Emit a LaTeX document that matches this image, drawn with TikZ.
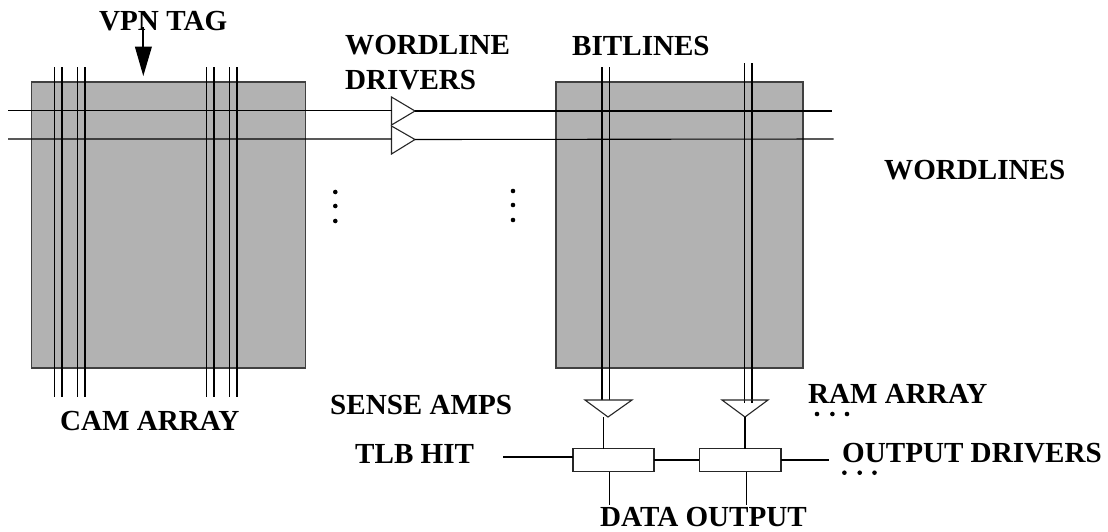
\documentclass[tikz,border=0pt]{standalone}
\usepackage{fontspec}
\setmainfont{Liberation Serif}
\begin{document}
\begin{tikzpicture}[x=1pt,y=-1pt,
  arrayblock/.style={draw=black!75,line width=1.3pt,fill=black!30,inner sep=0pt,outer sep=0pt},
  wire/.style={draw=black,line width=1.1pt},
  sym/.style={draw=black!85,line width=1.1pt,fill=white,line join=miter},
  outbox/.style={draw=black!85,line width=1.2pt,fill=white,inner sep=0pt,outer sep=0pt,minimum height=23pt},
  lab/.style={font=\bfseries\fontsize{29.1}{31}\selectfont,inner sep=0pt,anchor=base west},
  dotn/.style={circle,fill=black,inner sep=0pt,minimum size=4.6pt}]
\useasboundingbox (0,0) rectangle (1108,531);
\fill[white] (0,0) rectangle (1108,531);
% arrays
\node[arrayblock,minimum width=274pt,minimum height=286pt] (cam) at (168.5,225) {};
\node[arrayblock,minimum width=247pt,minimum height=286pt] (ram) at (679.5,225) {};
% CAM bitlines
\foreach \x in {54.5,62,77.3,85,206.7,214,229.5,237}
  \draw[wire] (\x,67) -- (\x,397);
% RAM bitlines
\foreach \x/\t/\b in {602/67/400,609.5/67/400,744.3/63/403,752/63/403}
  \draw[wire] (\x,\t) -- (\x,\b);
% wordline drivers
\coordinate (wa) at (8,110.7); \coordinate (wb) at (8,139);
\coordinate (wc) at (832,111); \coordinate (wd) at (833.5,139);
\draw[sym] (391.5,97) coordinate (d1t) -- (415,111) coordinate (d1) -- (391.5,125) coordinate (d1b) -- cycle;
\draw[sym] (391.5,126) coordinate (d2t) -- (415,139.5) coordinate (d2) -- (391.5,154) coordinate (d2b) -- cycle;
\draw[wire] (wa) -- (391.5,110.7) (d1) -- (wc);
\draw[wire] (wb) -- (391.5,139) (d2) -- (wd);
% sense amps
\path[sym,fill=none] (585,400) coordinate (s1l) -- (632,400) coordinate (s1r) -- (608,417) coordinate (s1) -- cycle;
\path[sym,fill=none] (722,400) coordinate (s2l) -- (768,400) coordinate (s2r) -- (745,417) coordinate (s2) -- cycle;
% output drivers
\node[outbox,minimum width=81pt] (o1) at (613.5,460) {};
\node[outbox,minimum width=81.5pt] (o2) at (740.2,460) {};
\coordinate (hit) at (503,457); \coordinate (outr) at (828.5,460);
\coordinate (q1) at (609.5,505); \coordinate (q2) at (746.3,505);
\draw[wire] (hit) -- (o1.west |- hit);
\draw[wire] (o1.east) -- (o2.west);
\draw[wire] (o2.east) -- (outr);
\draw[wire] (603.3,417) -- (o1.north -| 603.3,417);
\draw[wire] (s2) -- (o2.north -| s2);
\draw[wire] (q1 |- o1.south) -- (q1);
\draw[wire] (q2 |- o2.south) -- (q2);
% tag arrow
\coordinate (tag) at (143,27); \coordinate (tagb) at (143,47);
\draw[line width=1.6pt] (tag) -- (tagb);
\fill[black] (134.8,46.5) -- (152,46.5) -- (143.3,76) -- cycle;
% dots
\foreach \n/\x/\y in {a/335.3/192,b/335.3/206,c/335.3/221,d/513/191,e/513/205,f/513/220,g/817/414,h/832.4/414,i/847/414,j/844.4/472.7,k/859.7/472.7,l/874.5/472.7}
  \node[dotn] (dot\n) at (\x,\y) {};
% labels
\node[lab] (l1) at (99,30) {VPN TAG};
\node[lab] (l2) at (345,54.5) {WORDLINE};
\node[lab] (l3) at (345,89) {DRIVERS};
\node[lab] (l4) at (572,55) {BITLINES};
\node[lab] (l5) at (884,179.5) {WORDLINES};
\node[lab] (l6) at (808,403.5) {RAM ARRAY};
\node[lab] (l7) at (842,462) {OUTPUT DRIVERS};
\node[lab] (l8) at (600,526) {DATA OUTPUT};
\node[lab] (l9) at (60,430) {CAM ARRAY};
\node[lab] (l10) at (330,414) {SENSE AMPS};
\node[lab] (l11) at (355,463) {TLB HIT};
\end{tikzpicture}
\end{document}
